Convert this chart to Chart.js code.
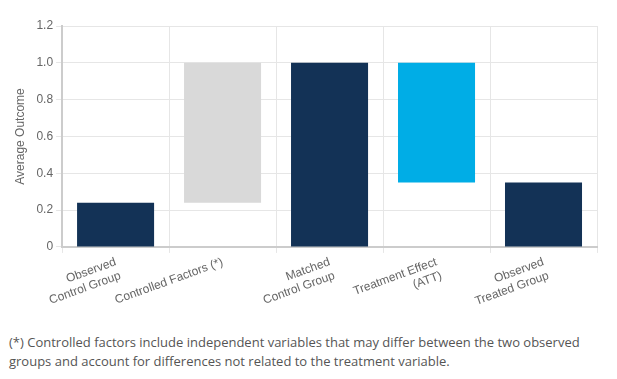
<!DOCTYPE html>
<html>
<head>
<meta charset="utf-8">
<script src="https://cdn.jsdelivr.net/npm/chart.js@4/dist/chart.umd.min.js"></script>
<style>
  html, body { margin: 0; padding: 0; background: #fff; width: 617px; height: 379px; overflow: hidden; }
  #wrap { position: absolute; left: 0; top: 0; width: 617px; height: 323px; }
  #note { position: absolute; left: 9px; top: 333px; width: 585px; font-family: "Open Sans", "Noto Sans", sans-serif; font-size: 13px; line-height: 19px; color: #555; }
</style>
</head>
<body>
<div id="wrap"><canvas id="c"></canvas></div>
<div id="note">(*) Controlled factors include independent variables that may differ between the two observed groups and account for differences not related to the treatment variable.</div>
<script>
const categories = [
  ["Observed", "Control Group"],
  "Controlled Factors (*)",
  ["Matched", "Control Group"],
  ["Treatment Effect", "(ATT)"],
  ["Observed", "Treated Group"]
];
const barStarts = [0, 0.24, 0, 0.35, 0];
const barEnds = [0.24, 1.0, 1.0, 1.0, 0.35];
const barColors = ["#133256", "#d9d9d9", "#133256", "#00ade6", "#133256"];
const yTicks = [0, 0.2, 0.4, 0.6, 0.8, 1.0, 1.2];
const yTitle = "Average Outcome";

const data = barStarts.map((s, i) => [s, barEnds[i]]);

new Chart(document.getElementById('c'), {
  type: 'bar',
  data: {
    labels: categories,
    datasets: [{
      data: data,
      backgroundColor: barColors,
      borderWidth: 0,
      categoryPercentage: 0.8,
      barPercentage: 0.9
    }]
  },
  options: {
    responsive: true,
    maintainAspectRatio: false,
    animation: false,
    layout: { padding: { left: 13, right: 20, top: 26, bottom: 0 } },
    plugins: { legend: { display: false }, tooltip: { enabled: false } },
    scales: {
      x: {
        grid: { color: '#e6e6e6', lineWidth: 1, offset: true, drawTicks: true, tickLength: 6 },
        border: { color: '#cccccc', width: 2 },
        ticks: {
          color: '#666',
          font: { family: 'Liberation Sans, Arial, sans-serif', size: 12 },
          minRotation: 20,
          maxRotation: 20,
          padding: 2
        }
      },
      y: {
        min: 0,
        max: 1.2,
        afterBuildTicks: (axis) => { axis.ticks = yTicks.map(v => ({ value: v })); },
        grid: { color: '#e6e6e6', lineWidth: 1, tickLength: 6 },
        border: { color: '#cccccc', width: 2 },
        title: {
          display: true,
          text: yTitle,
          color: '#666',
          font: { family: 'Liberation Sans, Arial, sans-serif', size: 12 },
          padding: { top: 0, bottom: 6 }
        },
        ticks: {
          color: '#666',
          font: { family: 'Liberation Sans, Arial, sans-serif', size: 12 },
          padding: 3,
          callback: (v) => v === 0 ? '0' : Number(v).toFixed(1)
        }
      }
    }
  }
});
</script>
</body>
</html>
